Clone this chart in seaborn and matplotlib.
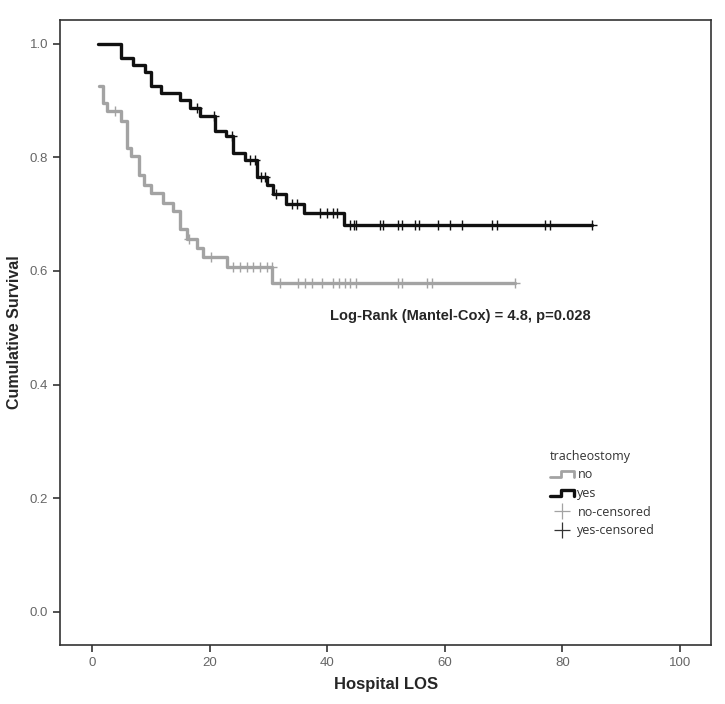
import numpy as np
import pandas as pd
import matplotlib
matplotlib.use("Agg")
import matplotlib.pyplot as plt
import seaborn as sns
from matplotlib.lines import Line2D
from matplotlib.legend_handler import HandlerBase

# step points (time, cumulative survival)
no_time = [1.2, 1.9, 2.6, 5.0, 5.9, 6.7, 8.0, 8.8, 10.0, 12.1, 13.8, 15.0, 16.1, 17.8, 18.9, 22.9, 30.7, 72.0]
no_surv = [0.925, 0.896, 0.881, 0.863, 0.817, 0.802, 0.768, 0.752, 0.737, 0.720, 0.705, 0.673, 0.657, 0.641, 0.624, 0.606, 0.579, 0.579]

yes_time = [1.0, 5.0, 7.0, 9.0, 10.1, 11.8, 15.0, 16.7, 18.3, 20.9, 22.8, 24.0, 26.0, 28.0, 29.8, 30.8, 33.0, 36.1, 42.9, 85.0]
yes_surv = [1.0, 0.975, 0.962, 0.950, 0.925, 0.913, 0.900, 0.887, 0.873, 0.847, 0.837, 0.808, 0.796, 0.766, 0.752, 0.736, 0.718, 0.702, 0.680, 0.680]

# censored observations (time only)
no_cens = [3.9, 16.5, 20.2, 24.0, 25.2, 26.3, 27.4, 28.6, 29.7, 30.6, 32.0, 35.0, 36.2, 37.4, 39.1,
           41.0, 42.0, 43.0, 43.9, 44.9, 52.0, 52.7, 57.0, 57.8, 72.0]
yes_cens = [17.8, 20.7, 23.8, 26.9, 27.7, 28.8, 29.4, 31.3, 34.0, 34.9, 38.8, 40.0, 41.0, 41.7,
            43.9, 44.6, 44.9, 49.0, 49.5, 52.0, 52.7, 54.9, 55.6, 58.8, 60.9, 62.9, 68.0, 68.9,
            77.0, 77.9, 85.0]

GREY = "#a3a3a3"
BLACK = "#111111"


def level_at(times, surv, t):
    i = np.searchsorted(times, t, side="right") - 1
    return surv[max(i, 0)]


steps = pd.concat([
    pd.DataFrame({"time": no_time, "surv": no_surv, "group": "no"}),
    pd.DataFrame({"time": yes_time, "surv": yes_surv, "group": "yes"}),
])
cens = pd.concat([
    pd.DataFrame({"time": no_cens, "surv": [level_at(no_time, no_surv, t) for t in no_cens], "group": "no"}),
    pd.DataFrame({"time": yes_cens, "surv": [level_at(yes_time, yes_surv, t) for t in yes_cens], "group": "yes"}),
])

sns.set_style("white")
plt.rcParams["font.family"] = ["Liberation Sans", "DejaVu Sans"]

fig = plt.figure(figsize=(7.25, 7.04), dpi=100)
ax = fig.add_axes([0.083, 0.084, 0.898, 0.888])

pal = {"no": GREY, "yes": BLACK}
sns.lineplot(data=steps, x="time", y="surv", hue="group", palette=pal, estimator=None,
             drawstyle="steps-post", linewidth=2.4, legend=False, ax=ax)
for g in ["no", "yes"]:
    sub = cens[cens["group"] == g]
    ax.plot(sub["time"], sub["surv"], linestyle="none", marker="+", markersize=7,
            markeredgewidth=1.0, color=pal[g])

ax.set_xlim(-5.4, 105.3)
ax.set_ylim(-0.058, 1.042)
ax.set_xticks([0, 20, 40, 60, 80, 100])
ax.set_yticks([0.0, 0.2, 0.4, 0.6, 0.8, 1.0])
ax.set_yticklabels(["0.0", "0.2", "0.4", "0.6", "0.8", "1.0"])
ax.tick_params(axis="both", direction="out", length=5, width=1.2, color="#333333",
               labelcolor="#666666", labelsize=9.5, left=True, bottom=True)
for s in ax.spines.values():
    s.set_color("#333333")
    s.set_linewidth(1.2)

ax.set_xlabel("Hospital LOS", fontsize=12, fontweight="bold", labelpad=6)
ax.set_ylabel("Cumulative Survival", fontsize=11.5, fontweight="bold", labelpad=6)

ax.text(40.5, 0.521, "Log-Rank (Mantel-Cox) = 4.8, p=0.028", fontsize=10.5,
        fontweight="bold", va="center", ha="left")


class StepHandler(HandlerBase):
    def create_artists(self, legend, orig, xd, yd, w, h, fontsize, trans):
        xs = np.array([0, 0.45, 0.45, 1.0, 1.0]) * w - xd
        ys = np.array([0.15, 0.15, 0.85, 0.85, 0.15]) * h - yd
        ln = Line2D(xs, ys, color=orig.get_color(), linewidth=orig.get_linewidth(), transform=trans)
        return [ln]


h_no = Line2D([], [], color=GREY, linewidth=2.0)
h_yes = Line2D([], [], color=BLACK, linewidth=2.4)
h_nc = Line2D([], [], color=GREY, linestyle="none", marker="+", markersize=11, markeredgewidth=0.9)
h_yc = Line2D([], [], color="#333333", linestyle="none", marker="+", markersize=11, markeredgewidth=0.9)
leg = ax.legend([h_no, h_yes, h_nc, h_yc], ["no", "yes", "no-censored", "yes-censored"],
                title="tracheostomy", handler_map={h_no: StepHandler(), h_yes: StepHandler()},
                loc="upper left", bbox_to_anchor=(0.735, 0.33), frameon=False,
                handlelength=1.9, handletextpad=0.3, labelspacing=0.45,
                prop={"family": "Open Sans", "size": 9}, title_fontproperties={"family": "Open Sans", "size": 9})
leg._legend_box.align = "left"
for t in leg.get_texts():
    t.set_color("#333333")
leg.get_title().set_color("#333333")

fig.savefig("out.png", dpi=100)
